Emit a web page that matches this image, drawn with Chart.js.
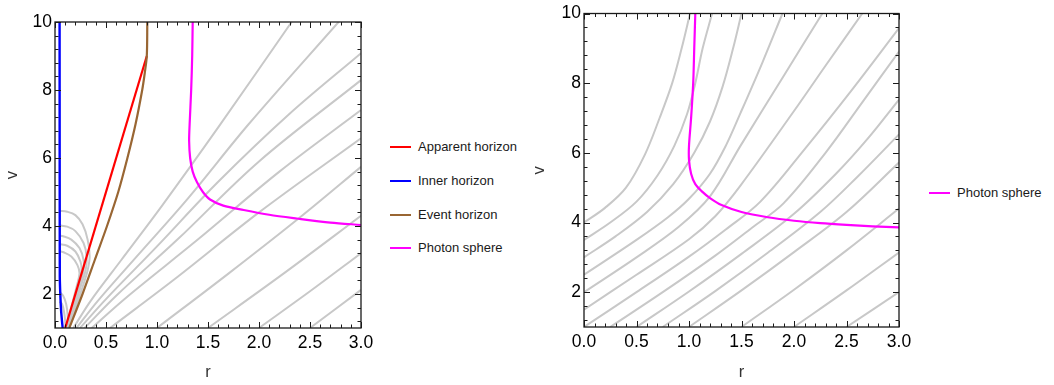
<!DOCTYPE html>
<html>
<head>
<meta charset="utf-8">
<script src="https://cdn.jsdelivr.net/npm/chart.js@4.4.1/dist/chart.umd.min.js"></script>
<style>
  body { margin: 0; background: #fff; width: 1054px; height: 385px; overflow: hidden;
         font-family: "Liberation Sans", Arial, sans-serif; }
  .panel { position: absolute; top: 0; }
  #leftPanel { left: 0; width: 380px; height: 385px; }
  #rightPanel { left: 530px; width: 390px; height: 385px; }
  .item { position: absolute; font-size: 13px; color: #1a1a1a; white-space: nowrap; line-height: 16px; }
  .item .sw { position: absolute; left: -28px; top: 7px; width: 21px; height: 2px; }
</style>
</head>
<body>
<div class="panel" id="leftPanel"><canvas id="leftChart" width="380" height="385"></canvas></div>
<div class="panel" id="rightPanel"><canvas id="rightChart" width="390" height="385"></canvas></div>
<div id="legends"></div>
<script>
// axis ticks
const rTicks = [0, 0.5, 1.0, 1.5, 2.0, 2.5, 3.0];
const vTicks = [2, 4, 6, 8, 10];

// left panel: horizons and photon sphere, points are [r, v]
const apparentHorizon = [[0.1, 1.0], [0.9, 9.0]];
const innerHorizon = [[0.075, 1.0], [0.06, 1.5], [0.052, 2.0], [0.047, 2.5], [0.045, 10]];
const eventHorizon = [[0.14, 1.0], [0.27, 2.0], [0.39, 3.0], [0.51, 4.0], [0.62, 5.0], [0.71, 6.0],
  [0.79, 7.0], [0.855, 8.0], [0.88, 8.5], [0.9, 9.0], [0.905, 10]];
const photonSphereLeft = [[3.0, 4.03], [2.7, 4.1], [2.37, 4.22], [2.1, 4.33], [1.85, 4.47], [1.65, 4.6],
  [1.52, 4.78], [1.45, 5.0], [1.39, 5.3], [1.35, 5.6], [1.325, 6.0], [1.315, 6.5], [1.32, 7.0],
  [1.335, 8.0], [1.345, 9.0], [1.35, 10]];

// left panel: outgoing light rays
const raysLeft = [
  [[2.5, 1], [3.0, 2.12]],
  [[2.0, 1], [2.5, 2.08], [3.0, 3.2]],
  [[1.5, 1], [2.25, 2.62], [3.0, 4.3]],
  [[1.0, 1], [1.7, 2.6], [2.4, 4.25], [3.0, 5.74]],
  [[0.54, 1], [1.2, 2.5], [2.0, 4.4], [3.0, 6.58]],
  [[0.36, 1], [0.7, 1.9], [1.4, 3.6], [2.2, 5.6], [3.0, 7.41]],
  [[0.29, 1], [0.6, 1.95], [1.2, 3.6], [2.0, 5.9], [3.0, 8.29]],
  [[0.245, 1], [0.5, 1.85], [1.0, 3.4], [1.6, 5.3], [2.3, 7.3], [3.0, 9.08]],
  [[0.21, 1], [0.42, 1.8], [0.8, 3.1], [1.3, 4.8], [1.9, 7.0], [2.78, 10]],
  [[0.18, 1], [0.35, 1.8], [0.65, 3.0], [1.05, 4.6], [1.6, 6.9], [2.32, 10]]
];

// left panel: rays trapped between the horizons
const trappedRays = [
  [[0.135, 1], [0.2, 1.6], [0.27, 2.2], [0.32, 2.7], [0.34, 3.1], [0.32, 3.6], [0.27, 4.05], [0.2, 4.32], [0.12, 4.42], [0.04, 4.45]],
  [[0.13, 1], [0.19, 1.6], [0.25, 2.2], [0.3, 2.7], [0.31, 3.1], [0.28, 3.5], [0.2, 3.85], [0.12, 3.98], [0.04, 4.02]],
  [[0.125, 1], [0.18, 1.6], [0.24, 2.2], [0.28, 2.7], [0.28, 3.0], [0.24, 3.35], [0.16, 3.6], [0.08, 3.7], [0.04, 3.72]],
  [[0.12, 1], [0.17, 1.6], [0.23, 2.2], [0.26, 2.7], [0.25, 2.95], [0.2, 3.25], [0.12, 3.42], [0.04, 3.47]],
  [[0.115, 1], [0.16, 1.6], [0.21, 2.2], [0.24, 2.6], [0.22, 2.85], [0.16, 3.1], [0.09, 3.22], [0.04, 3.26]],
  [[0.045, 2.05], [0.08, 1.95], [0.11, 1.7], [0.125, 1.35], [0.13, 1.0]],
  [[0.045, 1.78], [0.07, 1.7], [0.09, 1.45], [0.1, 1.2], [0.105, 1.0]]
];

// right panel: photon sphere and outgoing light rays
const photonSphereRight = [[3.0, 3.86], [2.75, 3.89], [2.5, 3.93], [2.25, 3.98], [2.0, 4.05], [1.75, 4.15],
  [1.5, 4.3], [1.31, 4.5], [1.2, 4.7], [1.12, 4.9], [1.06, 5.1], [1.02, 5.4], [1.0, 5.8], [1.0, 6.2],
  [1.02, 7.0], [1.04, 8.0], [1.05, 9.0], [1.06, 10]];

const raysRight = [
  [[0, 4.0], [0.2, 4.42], [0.4, 5.0], [0.58, 5.95], [0.72, 7.0], [0.84, 8.0], [0.93, 9.0], [1.01, 10]],
  [[0, 3.5], [0.25, 4.0], [0.5, 4.6], [0.7, 5.35], [0.86, 6.2], [0.98, 7.1], [1.06, 8.0], [1.13, 9.0], [1.22, 10]],
  [[0, 3.0], [0.3, 3.6], [0.6, 4.3], [0.85, 5.1], [1.05, 6.0], [1.2, 6.9], [1.32, 7.9], [1.42, 9.0], [1.5, 10]],
  [[0, 2.5], [0.5, 3.5], [0.8, 4.15], [1.0, 4.68], [1.2, 5.4], [1.35, 6.2], [1.49, 7.14], [1.7, 8.6], [1.89, 10]],
  [[0, 2.0], [0.5, 3.0], [0.9, 3.87], [1.2, 4.75], [1.49, 6.2], [1.9, 8.2], [2.27, 10]],
  [[0, 1.5], [0.5, 2.5], [1.0, 3.52], [1.25, 4.18], [1.49, 5.06], [2.0, 7.2], [2.3, 8.5], [2.65, 10]],
  [[0, 1.0], [0.5, 2.0], [1.0, 3.02], [1.35, 3.8], [1.68, 4.6], [2.1, 6.1], [2.55, 7.8], [3.0, 9.58]],
  [[0.25, 1], [0.75, 2.0], [1.25, 3.05], [1.6, 3.85], [1.9, 4.55], [2.3, 6.0], [2.65, 7.45], [3.0, 8.91]],
  [[0.5, 1], [1.0, 2.02], [1.5, 3.1], [2.0, 4.25], [2.4, 5.4], [2.7, 6.4], [3.0, 7.53]],
  [[0.75, 1], [1.25, 2.03], [1.75, 3.13], [2.25, 4.3], [2.6, 5.3], [3.0, 6.53]],
  [[1.0, 1], [1.5, 2.05], [2.0, 3.15], [2.5, 4.3], [3.0, 5.72]],
  [[1.5, 1], [2.0, 2.07], [2.5, 3.2], [3.0, 4.4]],
  [[2.0, 1], [2.5, 2.05], [3.0, 3.14]],
  [[2.5, 1], [3.0, 2.0]]
];

const COLORS = { apparent: '#ff0000', inner: '#0000ff', event: '#996633', photon: '#ff00ff', ray: '#c8c8c8' };

Chart.defaults.font.family = '"Liberation Sans", Arial, sans-serif';

const toXY = pts => pts.map(p => ({ x: p[0], y: p[1] }));

function curve(pts, color, width, tension) {
  return { data: toXY(pts), borderColor: color, borderWidth: width, showLine: true,
           pointRadius: 0, tension: tension, fill: false };
}

// Mathematica-style frame with inward ticks on all four sides
const framePlugin = {
  id: 'frame',
  afterDatasetsDraw(chart) {
    const { ctx, chartArea: a, scales: { x, y } } = chart;
    ctx.save();
    ctx.strokeStyle = '#1a1a1a';
    ctx.lineWidth = 1.3;
    ctx.strokeRect(a.left, a.top, a.right - a.left, a.bottom - a.top);
    ctx.lineWidth = 1;
    const tick = (x1, y1, x2, y2) => { ctx.beginPath(); ctx.moveTo(x1, y1); ctx.lineTo(x2, y2); ctx.stroke(); };
    for (let i = 0; i <= 30; i++) {
      const px = Math.round(x.getPixelForValue(i / 10)) + 0.5;
      const len = i % 5 === 0 ? 6 : 3.5;
      tick(px, a.bottom, px, a.bottom - len);
      tick(px, a.top, px, a.top + len);
    }
    for (let i = 0; i <= 22; i++) {
      const v = 1.2 + i * 0.4;
      if (v > 10.01) break;
      const py = Math.round(y.getPixelForValue(v)) + 0.5;
      const major = Math.abs(v / 2 - Math.round(v / 2)) < 0.01;
      const len = major ? 6 : 3.5;
      tick(a.left, py, a.left + len, py);
      tick(a.right, py, a.right - len, py);
    }
    ctx.restore();
  }
};

function makeChart(id, datasets, box) {
  return new Chart(document.getElementById(id), {
    type: 'scatter',
    data: { datasets: datasets },
    options: {
      responsive: false,
      animation: false,
      layout: { padding: { top: box.top, right: box.right, left: 0, bottom: 0 } },
      plugins: { legend: { display: false }, tooltip: { enabled: false } },
      scales: {
        x: {
          type: 'linear', min: 0, max: 3,
          afterBuildTicks: s => { s.ticks = rTicks.map(v => ({ value: v })); },
          afterFit: s => { s.height = box.xh; },
          grid: { display: false, drawTicks: false },
          border: { display: false },
          ticks: { padding: 5, color: '#000', font: { size: 17.5 }, maxRotation: 0, autoSkip: false,
                   callback: v => v.toFixed(1) },
          title: { display: true, text: 'r', color: '#333', font: { size: 16.5 }, padding: { top: 0, bottom: 3 } }
        },
        y: {
          type: 'linear', min: 1, max: 10,
          afterBuildTicks: s => { s.ticks = vTicks.map(v => ({ value: v })); },
          afterFit: s => { s.width = box.yw; },
          grid: { display: false, drawTicks: false },
          border: { display: false },
          ticks: { padding: 3, color: '#000', font: { size: 17.5 }, autoSkip: false },
          title: { display: true, text: 'v', color: '#333', font: { size: 16.5 }, padding: { top: box.vt, bottom: 0 } }
        }
      }
    },
    plugins: [framePlugin]
  });
}

// datasets with lower index are drawn on top
const leftSets = [
  curve(photonSphereLeft, COLORS.photon, 2.2, 0.3),
  curve(eventHorizon, COLORS.event, 2.2, 0.3),
  curve(apparentHorizon, COLORS.apparent, 2.2, 0),
  curve(innerHorizon, COLORS.inner, 2.4, 0.2)
].concat(raysLeft.concat(trappedRays).map(r => curve(r, COLORS.ray, 2, 0.35)));

const rightSets = [curve(photonSphereRight, COLORS.photon, 2.2, 0.3)]
  .concat(raysRight.map(r => curve(r, COLORS.ray, 2, 0.35)));

makeChart('leftChart', leftSets, { top: 22, right: 19, xh: 57, yw: 55, vt: 3 });
makeChart('rightChart', rightSets, { top: 12, right: 21, xh: 58, yw: 54, vt: 0 });

// legends
const legendItems = [
  { label: 'Apparent horizon', color: COLORS.apparent, x: 418, y: 139 },
  { label: 'Inner horizon', color: COLORS.inner, x: 418, y: 173 },
  { label: 'Event horizon', color: COLORS.event, x: 418, y: 207 },
  { label: 'Photon sphere', color: COLORS.photon, x: 418, y: 240 },
  { label: 'Photon sphere', color: COLORS.photon, x: 957, y: 185 }
];
const legendBox = document.getElementById('legends');
legendItems.forEach(it => {
  const el = document.createElement('div');
  el.className = 'item';
  el.style.left = it.x + 'px';
  el.style.top = it.y + 'px';
  el.innerHTML = '<span class="sw" style="background:' + it.color + '"></span>' + it.label;
  legendBox.appendChild(el);
});
</script>
</body>
</html>
